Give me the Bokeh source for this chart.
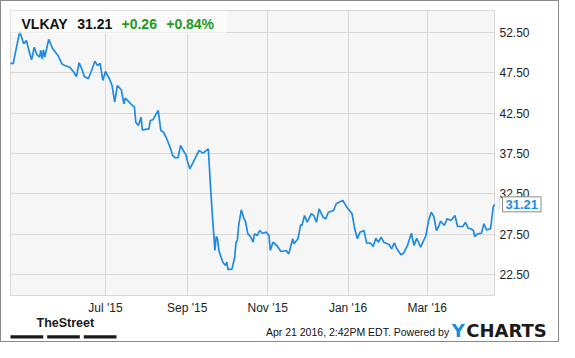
import pandas as pd
from bokeh.plotting import figure
from bokeh.models import (Range1d, FixedTicker, NumeralTickFormatter,
                          DatetimeTickFormatter, Label, BoxAnnotation,
                          PolyAnnotation, ColumnDataSource)
from bokeh.embed import file_html
from bokeh.resources import INLINE

# ---------------- data ----------------
ticker_symbol = "VLKAY"
last_price = 31.21
change_abs = "+0.26"
change_pct = "+0.84%"
base_date = "2015-04-21"
day_offsets = [-1, 1, 6, 9, 11, 14, 15, 17, 19, 21, 22, 23, 24, 25, 28, 31, 35, 38, 40, 44,
               47, 49, 51, 53, 55, 58, 60, 63, 65, 67, 69, 71, 74, 76, 78, 80, 83, 85, 86, 89,
               91, 93, 94, 96, 98, 99, 104, 105, 107, 111, 113, 115, 117, 120, 122, 124, 126, 128, 130, 132,
               133, 135, 140, 142, 145, 149, 151, 152, 154, 155, 156, 157, 160, 162, 163, 164, 167, 169, 170, 171,
               172, 174, 176, 177, 179, 181, 183, 184, 186, 188, 190, 193, 195, 196, 198, 201, 204, 208, 210, 213,
               214, 217, 219, 220, 222, 224, 227, 229, 231, 233, 236, 238, 240, 244, 246, 248, 251, 254, 258, 260,
               262, 264, 267, 269, 272, 274, 276, 278, 280, 282, 286, 288, 290, 292, 295, 297, 300, 303, 305, 307,
               310, 314, 316, 318, 320, 322, 324, 325, 328, 330, 333, 336, 338, 342, 344, 346, 348, 350, 351, 353,
               356, 358, 360, 363, 365, 366]
prices = [48.67, 48.59, 52.59, 51.07, 51.47, 49.62, 49.09, 50.64, 49.71, 49.41, 50.24, 49.21, 50.32, 49.41, 51.63, 50.45, 49.62, 48.59, 48.38, 48.17,
          47.55, 47.02, 48.72, 47.97, 47.02, 46.74, 47.55, 48.91, 48.38, 48.63, 46.53, 47.64, 46.74, 45.91, 43.84, 45.91, 45.38, 43.65, 44.34, 43.84,
          43.52, 43.22, 41.37, 40.96, 41.99, 40.43, 40.55, 41.58, 41.67, 42.82, 40.34, 40.13, 39.51, 38.28, 37.25, 36.97, 36.97, 38.49, 37.87, 37.34,
          36.63, 35.61, 37.25, 37.87, 37.54, 38.08, 32.51, 30.04, 25.50, 27.23, 26.95, 25.50, 24.06, 23.65, 24.06, 23.12, 23.24, 24.67, 26.53, 26.74,
          28.59, 30.54, 29.42, 29.21, 27.57, 27.23, 26.53, 27.57, 27.36, 27.98, 27.64, 27.77, 27.36, 25.50, 26.53, 26.12, 25.38, 25.50, 25.09, 26.95,
          26.33, 26.95, 28.68, 28.59, 29.83, 29.00, 30.04, 29.83, 29.00, 30.66, 29.62, 29.42, 30.24, 30.45, 31.28, 31.48, 31.69, 30.86, 30.04, 28.19,
          26.95, 27.77, 27.98, 26.45, 26.41, 26.00, 27.02, 26.53, 27.15, 26.53, 26.24, 25.71, 26.45, 25.71, 24.97, 25.17, 26.12, 27.64, 26.12, 27.02,
          25.91, 27.36, 29.21, 30.24, 29.71, 27.98, 28.59, 29.13, 28.59, 29.42, 29.21, 29.83, 28.47, 28.47, 29.00, 28.26, 28.19, 27.98, 27.23, 27.57,
          27.64, 28.80, 28.06, 28.19, 30.86, 31.21]
y_ticks = [22.5, 27.5, 32.5, 37.5, 42.5, 47.5, 52.5]
x_tick_dates = ["2015-07-01", "2015-09-01", "2015-11-01", "2016-01-01", "2016-03-01"]
x_start_date, x_end_date = "2015-04-20", "2016-04-21"
y_start, y_end = 19.94, 55.18
footer_text = "Apr 21 2016, 2:42PM EDT. Powered by"
brand_left = "TheStreet"
brand_right = ("Y", "CHARTS")

# ---------------- layout (pixels) ----------------
W, H = 559, 342
PL, PR, PT, PB = 10, 494, 10, 295      # plotting-area edges on the canvas

base = pd.Timestamp(base_date)
dates = [base + pd.Timedelta(days=d) for d in day_offsets]
src = ColumnDataSource(dict(date=dates, price=prices))

to_ms = lambda t: pd.Timestamp(t).value / 1e6
x0, x1 = to_ms(x_start_date), to_ms(x_end_date)
dx = (x1 - x0) / (PR - PL)
dy = (y_end - y_start) / (PB - PT)

p = figure(width=W, height=H, x_axis_type="datetime", y_axis_location="right",
           x_range=Range1d(x0 - PL * dx, x0 + (W - PL) * dx),
           y_range=Range1d(y_start - (H - PB) * dy, y_end + PT * dy),
           output_backend="svg", toolbar_location=None,
           min_border_left=0, min_border_right=0, min_border_top=0, min_border_bottom=0)
p.styles = {"box-shadow": "inset 0 0 0 1px #8a8a8a"}
p.background_fill_color = None
p.border_fill_color = None
p.outline_line_color = None

# plotting area background and border
p.add_layout(BoxAnnotation(left=x0, right=x1, top=y_end, bottom=y_start, fill_color="#f6f6f6",
                           fill_alpha=1, line_color=None, level="image"))

p.xaxis.ticker = FixedTicker(ticks=[to_ms(d) for d in x_tick_dates])
fmt = "%b '%y"
p.xaxis.formatter = DatetimeTickFormatter(days=fmt, months=fmt, years=fmt, hours=fmt)
p.yaxis.ticker = FixedTicker(ticks=y_ticks)
p.yaxis.formatter = NumeralTickFormatter(format="0.00")
p.xaxis.fixed_location = y_start
p.yaxis.fixed_location = x1
for ax in (p.xaxis[0], p.yaxis[0]):
    ax.axis_line_color = None
    ax.major_tick_line_color = None
    ax.minor_tick_line_color = None
    ax.major_tick_out = 0
    ax.major_tick_in = 0
    ax.major_label_text_font = "Liberation Sans"
    ax.major_label_text_font_size = "12px"
    ax.major_label_text_color = "#222222"
    ax.major_label_standoff = 5

p.xgrid.grid_line_color = "#d8d8d8"
p.ygrid.grid_line_color = "#d8d8d8"
p.xgrid.cross_bounds = (y_start, y_end)
p.ygrid.cross_bounds = (x0, x1)

p.line("date", "price", source=src, line_color="#1f8be3", line_width=1.7)

p.add_layout(BoxAnnotation(left=x0, right=x1, top=y_end, bottom=y_start, fill_alpha=0,
                           line_color="#8a8a8a", line_width=1))

# header box + texts
p.add_layout(BoxAnnotation(left=x0, right=x0 + 216 * dx, top=y_end, bottom=y_end - 23 * dy,
                           fill_color="white", fill_alpha=0.6, line_color=None))
hy = y_end - 13.3 * dy
head = [(ticker_symbol, 11, "#111111"), (f"{last_price:.2f}", 66.7, "#111111"),
        (change_abs, 111, "#1e9a1e"), (change_pct, 155.7, "#1e9a1e")]
for txt, off, col in head:
    p.add_layout(Label(x=x0 + off * dx, y=hy, text=txt, text_align="left", text_baseline="middle",
                       text_font="Liberation Sans", text_font_style="bold", text_font_size="14px",
                       text_color=col))

# last price tag
p.add_layout(Label(x=x1 + 8 * dx, y=last_price, text=f"{last_price:.2f}", text_align="left",
                   text_baseline="middle", text_font="Liberation Sans", text_font_style="bold",
                   text_font_size="13px", text_color="#1f8be3", background_fill_color="white",
                   border_line_color="#8a8a8a", border_line_width=1, padding=3))
p.add_layout(PolyAnnotation(xs=[x1 + 0.3 * dx, x1 + 5.2 * dx, x1 + 5.2 * dx],
                            ys=[last_price, last_price + 4.5 * dy, last_price - 4.5 * dy],
                            fill_color="white", line_color="#8a8a8a", line_width=1))

# footer
yb = y_start
p.add_layout(Label(x=x0 + 26 * dx, y=yb - 27.3 * dy, text=brand_left, text_align="left",
                   text_baseline="middle", text_font="Liberation Sans", text_font_style="bold",
                   text_font_size="12.5px", text_color="#1a1a1a"))
for a, b in [(0, 32.7), (36.7, 69.3), (73.3, 106)]:
    p.add_layout(BoxAnnotation(left=x0 + a * dx, right=x0 + b * dx, top=yb - 39.7 * dy,
                               bottom=yb - 43 * dy, fill_color="#1a1a1a", fill_alpha=1,
                               line_color=None))
p.add_layout(Label(x=x1 - 45.3 * dx, y=yb - 36.7 * dy, text=footer_text, text_align="right",
                   text_baseline="middle", text_font="Liberation Sans", text_font_size="10.5px",
                   text_color="#111111"))
p.add_layout(Label(x=x1 - 42.7 * dx, y=yb - 34.5 * dy, text=brand_right[0], text_align="left",
                   text_baseline="middle", text_font="DejaVu Sans", text_font_style="bold",
                   text_font_size="18px", text_color="#1a8de0"))
p.add_layout(Label(x=x1 - 42.7 * dx + 14.5 * dx, y=yb - 34.5 * dy, text=brand_right[1], text_align="left",
                   text_baseline="middle", text_font="DejaVu Sans", text_font_style="bold",
                   text_font_size="18px", text_color="#1b1b1b"))

open("out.html", "w").write(file_html(p, INLINE))
